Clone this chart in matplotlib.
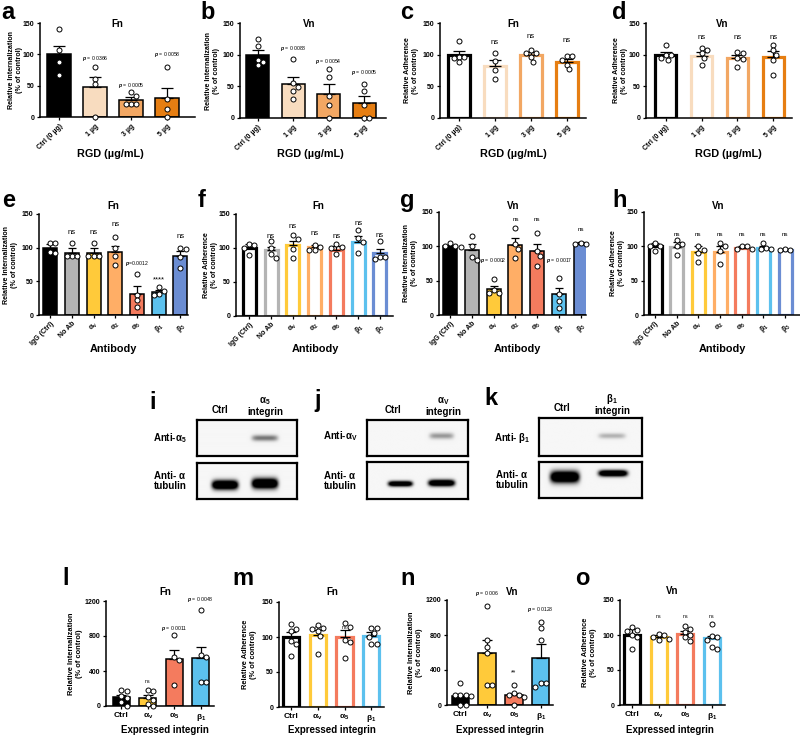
import numpy as np
import matplotlib
matplotlib.use("Agg")
import matplotlib.pyplot as plt

plt.rcParams['font.family'] = ['Liberation Sans', 'DejaVu Sans']
plt.rcParams['font.weight'] = 'bold'
plt.rcParams['mathtext.fontset'] = 'custom'
plt.rcParams['mathtext.rm'] = 'Liberation Sans:bold'
plt.rcParams['mathtext.bf'] = 'Liberation Sans:bold'
plt.rcParams['mathtext.it'] = 'Liberation Sans:italic'
plt.rcParams['mathtext.default'] = 'rm'

# ---------------- data ----------------
rgd_labels = ['Ctrl (0 µg)', '1 µg', '3 µg', '5 µg']
ab_labels = ['IgG (Ctrl)', 'No Ab', 'α$_v$', 'α$_2$', 'α$_5$', 'β$_1$', 'β$_3$']
expr_labels = ['Ctrl', 'α$_v$', 'α$_5$', 'β$_1$']

rgd_colors = ['#000000', '#F8DCBF', '#F2A763', '#E67E12']
ab_colors = ['#000000', '#B4B4B4', '#FFCA3A', '#FFAE66', '#F47B5E', '#5CC1EE', '#6B8DD3']
expr_colors = ['#000000', '#FFCA3A', '#F47B5E', '#5CC1EE']

# a: Fn internalization, RGD
a_means = [100, 47.5, 27.5, 30]
a_sems = [13.6, 17, 5, 16]
a_pts = [[141, 107, 87, 67], [79, 61, 53, 0], [40, 34, 21, 21, 21], [79, 28, 12, 0]]
# b: Vn internalization, RGD
b_means = [100, 53.7, 38, 23]
b_sems = [8, 11, 15.7, 11]
b_pts = [[124, 114, 91, 88, 83], [93, 55, 49, 42, 30], [77, 65, 34, 21, 0], [54, 43, 21, 0, 0]]
# c: Fn adherence, RGD
c_means = [100, 82, 99, 89]
c_sems = [5, 9.5, 4.5, 4]
c_pts = [[122, 97, 97, 95, 89], [103, 90, 76, 62], [107, 103, 102, 96, 89], [98, 98, 91.5, 84, 77]]
# d: Vn adherence, RGD
d_means = [100, 98, 94, 96]
d_sems = [4, 6, 5, 9]
d_pts = [[116, 99, 99, 94, 92], [110, 107, 102, 95, 84], [104, 103, 94, 93, 81], [115, 107, 100, 92, 68]]
# e: Fn internalization, antibody
e_means = [100, 92.5, 92.5, 94, 31, 34, 88]
e_sems = [6, 6.5, 6.5, 9, 12, 3, 7]
e_pts = [[107, 107, 94, 92], [107, 88, 88, 87], [107, 88, 88, 87], [116, 100, 88, 74],
         [61, 30, 22, 12], [41, 36, 31, 30], [99, 98, 86, 70]]
# f: Fn adherence, antibody
f_means = [100, 97, 104, 101, 97, 109, 92]
f_sems = [6, 5, 7, 4, 6, 8, 6]
f_pts = [[106, 104, 100, 90], [110, 100, 91, 85], [119, 113, 98, 86], [105, 102, 97, 97],
         [106, 102, 100, 91], [126, 115, 109, 92], [110, 87, 87, 84]]
# g: Vn internalization, antibody
g_means = [100, 95, 37.5, 102, 92.5, 30, 104]
g_sems = [2, 9, 5, 9.5, 10.5, 10, 2]
g_pts = [[105, 100, 100, 99], [115, 100, 85, 80], [52, 36, 32, 32], [127, 103, 96, 83],
         [120, 93, 86, 72], [54, 31, 20, 10], [105, 104, 103]]
# h: Vn adherence, antibody
h_means = [100, 99, 92, 92, 98, 98, 95]
h_sems = [5, 7, 9, 8, 2, 3, 1]
h_pts = [[105, 101, 101, 93], [109, 104, 101, 88], [100, 95, 90, 77], [105, 100, 93, 74],
         [101, 100, 96, 96], [105, 98, 96, 96], [96, 95, 95]]
# l: Fn internalization, expressed integrin
l_means = [100, 92, 535, 546]
l_sems = [22, 30, 103, 123]
l_pts = [[180, 170, 110, 95, 45, 0], [180, 175, 103, 65, 27, 0], [810, 565, 530, 245],
         [1097, 581, 562, 271, 271]]
# m: Fn adherence, expressed integrin
m_means = [100, 103, 100, 102]
m_sems = [7, 7.5, 10, 5]
m_pts = [[118, 112, 108, 95, 90, 73], [117, 113, 112, 108, 101, 76], [120, 115, 96, 93, 70],
         [113, 113, 106, 100, 90, 90]]
# n: Vn internalization, expressed integrin
n_means = [100, 590, 114, 541]
n_sems = [20, 153, 27, 152]
n_pts = [[248, 120, 115, 110, 105, 0, 0], [1131, 743, 659, 598, 232, 232],
         [229, 141, 114, 114, 95, 0], [952, 876, 743, 248, 248, 210]]
# o: Vn adherence, expressed integrin
o_means = [100, 97, 102, 95.5]
o_sems = [8, 3, 4, 3.5]
o_pts = [[111, 107, 106, 100, 97, 80], [102, 100, 97, 95, 93], [113, 108, 105, 100, 97, 91],
         [116, 99, 97, 93, 83, 80]]

# annotations: (bar index, y value, text)
a_ann = [(1, 93, r'$\mathit{p}$ = 0.0366'), (2, 51, r'$\mathit{p}$ = 0.0005'), (3, 99, r'$\mathit{p}$ = 0.0058')]
b_ann = [(1, 109, r'$\mathit{p}$ = 0.0088'), (2, 89, r'$\mathit{p}$ = 0.0054'), (3, 72, r'$\mathit{p}$ = 0.0005')]
c_ann = [(1, 120, 'ns'), (2, 128, 'ns'), (3, 122, 'ns')]
d_ann = [(1, 127, 'ns'), (2, 127, 'ns'), (3, 127, 'ns')]
e_ann = [(1, 123, 'ns'), (2, 123, 'ns'), (3, 134, 'ns'), (4, 77, r'$\mathit{p}$=0.0012'), (5, 52, '****'), (6, 116, 'ns')]
f_ann = [(1, 117, 'ns'), (2, 131, 'ns'), (3, 122, 'ns'), (4, 117, 'ns'), (5, 136, 'ns'), (6, 119, 'ns')]
g_ann = [(2, 79, r'$\mathit{p}$ = 0.0002'), (3, 139, 'ns'), (4, 139, 'ns'), (5, 79, r'$\mathit{p}$ = 0.0017'), (6, 125, 'ns')]
h_ann = [(k, 117, 'ns') for k in range(1, 7)]
l_ann = [(1, 275, 'ns'), (2, 886, r'$\mathit{p}$ = 0.0011'), (3, 1219, r'$\mathit{p}$ = 0.0048')]
m_ann = [(1, 114, 'ns'), (2, 114, 'ns'), (3, 114, 'ns')]
n_ann = [(1, 1276, r'$\mathit{p}$ = 0.006'), (2, 362, '**'), (3, 1093, r'$\mathit{p}$ = 0.0128')]
o_ann = [(1, 127, 'ns'), (2, 127, 'ns'), (3, 127, 'ns')]

# western blot bands: (lane x, band y, half-width, sigma-y, intensity) in box fractions
i_top_bands = [(0.68, 0.50, 0.13, 0.06, 0.30)]
i_bot_bands = [(0.28, 0.39, 0.13, 0.09, 1.0), (0.68, 0.43, 0.13, 0.10, 1.0)]
j_top_bands = [(0.74, 0.56, 0.12, 0.06, 0.22)]
j_bot_bands = [(0.33, 0.40, 0.12, 0.05, 0.9), (0.74, 0.42, 0.13, 0.06, 0.95)]
k_top_bands = [(0.71, 0.53, 0.13, 0.05, 0.16)]
k_bot_bands = [(0.25, 0.57, 0.14, 0.11, 1.0), (0.72, 0.67, 0.14, 0.06, 0.95)]

# ---------------- figure ----------------
W, H = 800, 736
fig = plt.figure(figsize=(W / 100, H / 100), dpi=100)


def rect(l, t, r, b):
    return [l / W, 1 - b / H, (r - l) / W, (b - t) / H]


def ftext(x, y, s, **kw):
    fig.text(x / W, 1 - y / H, s, **kw)


def swarm_x(ax, xc, vals, diam_px):
    vals = np.asarray(vals, float)
    T = ax.transData
    y_px = T.transform(np.column_stack([np.full(len(vals), xc), vals]))[:, 1]
    ppx = T.transform([[xc + 1, 0]])[0, 0] - T.transform([[xc, 0]])[0, 0]
    order = np.argsort(-vals, kind='stable')
    placed = []
    offs = np.zeros(len(vals))
    step = diam_px * 0.5
    for i in order:
        k = 0
        found = None
        while found is None:
            cands = [0.0] if k == 0 else [k * step, -k * step]
            for c in cands:
                if all((c - o) ** 2 + (y_px[i] - yp) ** 2 >= (diam_px * 0.95) ** 2 for o, yp in placed):
                    found = c
                    break
            k += 1
        offs[i] = found
        placed.append((found, y_px[i]))
    return xc + offs / ppx


def bar_panel(box, xlim, labels, means, sems, pts, colors, hollow, ylim, yticks, ylabel, ylab_px,
              title, title_px, xlabel, xlabel_px, rotate, annots, cap=4, ann_fs=5.2, p_fs=3.7,
              xtick_fs=5.0, ytick_fs=5.0, ylab_fs=5.1, xlab_fs=7.8):
    l, t, r, b = box
    ax = fig.add_axes(rect(l, t, r, b))
    x = np.arange(len(labels))
    ax.set_xlim(*xlim)
    ax.set_ylim(*ylim)
    if hollow:
        ax.bar(x, means, width=0.6, color='white', edgecolor=colors, linewidth=2.3, zorder=2)
    else:
        ax.bar(x, means, width=0.65, color=colors, edgecolor='black', linewidth=1.1, zorder=2)
    ax.errorbar(x, means, yerr=[np.zeros(len(x)), sems], fmt='none', ecolor='black',
                elinewidth=0.9, capsize=cap, capthick=0.9, zorder=3)
    for xi, v in zip(x, pts):
        xs = swarm_x(ax, xi, v, 5.2)
        ax.plot(xs, v, 'o', ms=3.6, mfc='white', mec='black', mew=0.7, zorder=4, clip_on=False)
    for sp in ['top', 'right']:
        ax.spines[sp].set_visible(False)
    for sp in ['left', 'bottom']:
        ax.spines[sp].set_linewidth(1.1)
    ax.set_yticks(yticks)
    ax.set_xticks(x)
    ax.tick_params(axis='y', labelsize=ytick_fs, length=2.5, width=0.9, pad=1.5)
    ax.tick_params(axis='x', labelsize=xtick_fs, length=2.5, width=0.9, pad=1.5)
    if rotate:
        ax.set_xticklabels(labels, rotation=45, ha='right', rotation_mode='anchor')
    else:
        ax.set_xticklabels(labels)
    for lab in ax.get_xticklabels() + ax.get_yticklabels():
        lab.set_fontweight('bold')
    ax.set_ylabel(ylabel, fontsize=ylab_fs, fontweight='bold', linespacing=1.15)
    ax.yaxis.set_label_coords((ylab_px - l) / (r - l), 0.5)
    for i, yv, s in annots:
        fs = p_fs if 'mathit' in s else ann_fs
        ax.text(i, yv, s, ha='center', va='center', fontsize=fs, fontweight='normal', clip_on=False)
    ftext(title_px[0], title_px[1], title, fontsize=7, fontweight='bold', ha='center', va='center')
    ftext(xlabel_px[0], xlabel_px[1], xlabel, fontsize=xlab_fs, fontweight='bold', ha='center', va='center')
    return ax


INT = 'Relative Internalization\n(% of control)'
ADH = 'Relative Adherence\n(% of control)'
Y150 = [0, 50, 100, 150]
Y1200 = [0, 400, 800, 1200]
RGDX = 'RGD (µg/mL)'
ABX = 'Antibody'
EXX = 'Expressed integrin'

bar_panel((40, 23, 195, 117), (-0.53, 3.78), rgd_labels, a_means, a_sems, a_pts, rgd_colors, False,
          (0, 150), Y150, INT, 23, 'Fn', (117, 24), RGDX, (110, 154), True, a_ann)
bar_panel((240, 23, 386, 118), (-0.5, 3.62), rgd_labels, b_means, b_sems, b_pts, rgd_colors, False,
          (0, 150), Y150, INT, 220, 'Vn', (309, 24), RGDX, (310, 154), True, b_ann)
bar_panel((440, 23, 586, 118), (-0.52, 3.53), rgd_labels, c_means, c_sems, c_pts, rgd_colors, True,
          (0, 150), Y150, ADH, 419, 'Fn', (513, 24), RGDX, (513, 154), True, c_ann, ann_fs=5.6)
bar_panel((646, 23, 792, 118), (-0.55, 3.52), rgd_labels, d_means, d_sems, d_pts, rgd_colors, True,
          (0, 150), Y150, ADH, 628, 'Vn', (722, 24), RGDX, (728, 154), True, d_ann, ann_fs=5.6)

bar_panel((39, 214, 188, 315), (-0.52, 6.35), ab_labels, e_means, e_sems, e_pts, ab_colors, False,
          (0, 150), Y150, INT, 18, 'Fn', (113, 206), ABX, (113, 349), True, e_ann, cap=2.8, ann_fs=5.6)
bar_panel((236, 214, 393, 316), (-0.61, 6.6), ab_labels, f_means, f_sems, f_pts, ab_colors, True,
          (0, 150), Y150, ADH, 218, 'Fn', (318, 206), ABX, (315, 349), True, f_ann, cap=2.8, ann_fs=5.6)
bar_panel((439, 212, 586, 315), (-0.52, 6.25), ab_labels, g_means, g_sems, g_pts, ab_colors, False,
          (0, 150), Y150, INT, 418, 'Vn', (513, 206), ABX, (517, 349), True, g_ann, cap=2.8, ann_fs=4.5)
bar_panel((644, 212, 800, 315), (-0.51, 6.69), ab_labels, h_means, h_sems, h_pts, ab_colors, True,
          (0, 150), Y150, ADH, 625, 'Vn', (718, 206), ABX, (722, 349), True, h_ann, cap=2.8, ann_fs=4.5)

bar_panel((106, 601, 214, 706), (-0.58, 3.5), expr_labels, l_means, l_sems, l_pts, expr_colors, False,
          (0, 1200), Y1200, INT, 83, 'Fn', (165, 592), EXX, (165, 730), False, l_ann, cap=3.5,
          ann_fs=3.8, xtick_fs=6.0, ylab_fs=5.4, xlab_fs=7.0)
bar_panel((279, 602, 384, 707), (-0.44, 3.47), expr_labels, m_means, m_sems, m_pts, expr_colors, True,
          (0, 150), Y150, ADH, 257, 'Fn', (332, 592), EXX, (332, 730), False, m_ann, cap=3.5,
          ann_fs=3.8, xtick_fs=6.0, ylab_fs=5.4, xlab_fs=7.0)
bar_panel((447, 600, 553, 705), (-0.5, 3.46), expr_labels, n_means, n_sems, n_pts, expr_colors, False,
          (0, 1200), Y1200, INT, 423, 'Vn', (512, 592), EXX, (500, 730), False, n_ann, cap=3.5,
          ann_fs=5.0, xtick_fs=6.0, ylab_fs=5.4, xlab_fs=7.0)
bar_panel((620, 600, 725, 705), (-0.45, 3.5), expr_labels, o_means, o_sems, o_pts, expr_colors, True,
          (0, 150), Y150, ADH, 597, 'Vn', (672, 591), EXX, (670, 730), False, o_ann, cap=3.5,
          ann_fs=3.8, xtick_fs=6.0, ylab_fs=5.4, xlab_fs=7.0)


# ---------------- western blots ----------------
def blot_box(box, bands):
    l, t, r, b = box
    ax = fig.add_axes(rect(l, t, r, b))
    nx, ny = 200, 80
    xx, yy = np.meshgrid(np.linspace(0, 1, nx), np.linspace(0, 1, ny))
    dens = np.zeros_like(xx)
    for cx, cy, hw, sy, inten in bands:
        dens += inten * np.exp(-((xx - cx) / hw) ** 6) * np.exp(-0.5 * ((yy - cy) / sy) ** 2)
    img = 0.965 - np.clip(dens * 1.7, 0, 0.965)
    ax.imshow(img, cmap='gray', vmin=0, vmax=1, extent=(0, 1, 0, 1), origin='lower',
              aspect='auto', interpolation='bilinear')
    ax.set_xticks([])
    ax.set_yticks([])
    for sp in ax.spines.values():
        sp.set_linewidth(1.6)
    return ax


blot_box((197, 420, 297, 456), i_top_bands)
blot_box((197, 463, 297, 499), i_bot_bands)
blot_box((367, 420, 468, 456), j_top_bands)
blot_box((367, 462, 468, 499), j_bot_bands)
blot_box((539, 418, 642, 456), k_top_bands)
blot_box((539, 462, 642, 498), k_bot_bands)

bk = dict(fontsize=7, fontweight='bold', ha='center', va='center', linespacing=1.0)
ftext(220, 410, 'Ctrl', **bk)
ftext(265, 406, 'α$_5$\nintegrin', **bk)
ftext(170, 438, 'Anti-α$_5$', **bk)
ftext(170, 481, 'Anti- α\ntubulin', **bk)
ftext(393, 410, 'Ctrl', **bk)
ftext(443, 406, 'α$_V$\nintegrin', **bk)
ftext(340, 436, 'Anti-α$_V$', **bk)
ftext(340, 481, 'Anti- α\ntubulin', **bk)
ftext(562, 408, 'Ctrl', **bk)
ftext(612, 404, 'β$_1$\nintegrin', **bk)
ftext(512, 438, 'Anti- β$_1$', **bk)
ftext(512, 480, 'Anti- α\ntubulin', **bk)

# ---------------- panel letters ----------------
letters = [('a', 1, 19), ('b', 200, 19), ('c', 400, 19), ('d', 612, 19),
           ('e', 2, 207), ('f', 198, 207), ('g', 400, 207), ('h', 612, 207),
           ('i', 149, 409), ('j', 314, 407), ('k', 484, 405),
           ('l', 62, 585), ('m', 232, 585), ('n', 400, 585), ('o', 575, 585)]
for s, x, y in letters:
    ftext(x, y, s, fontsize=17, fontweight='bold', ha='left', va='baseline')

fig.savefig('out.png', dpi=100)
